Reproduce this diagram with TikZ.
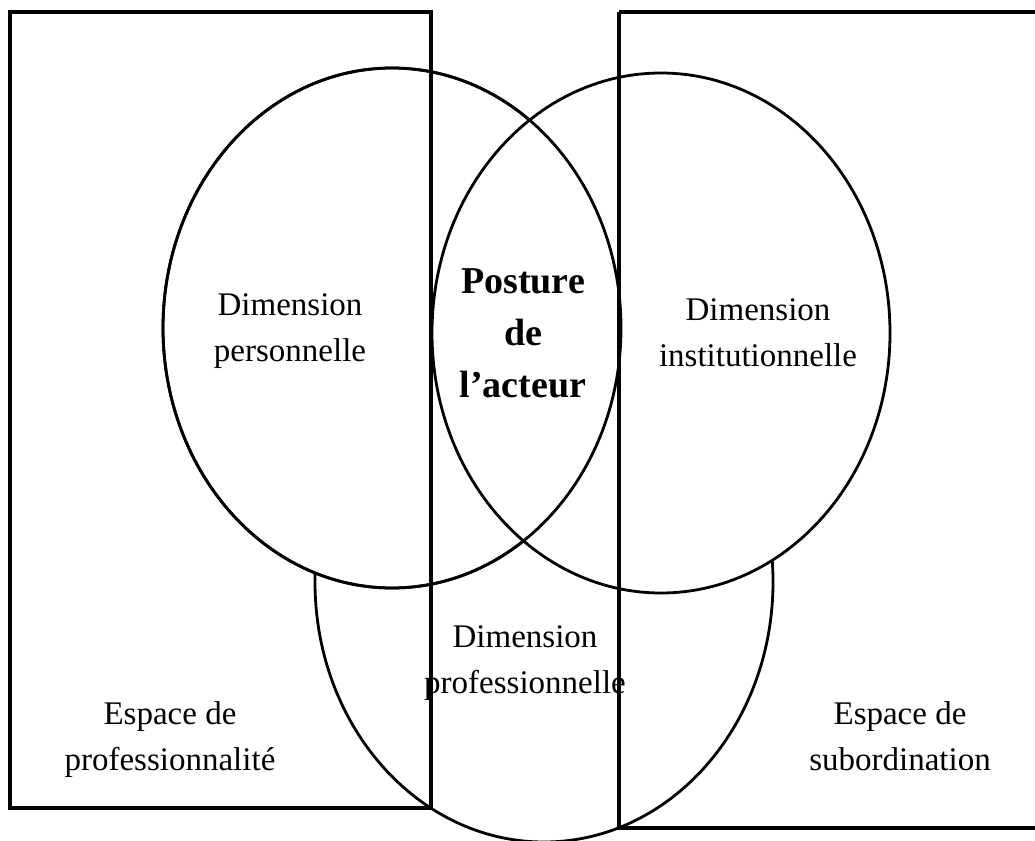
\documentclass[tikz,border=0pt]{standalone}
\usepackage{fontspec}
\setmainfont{Liberation Serif}
\usetikzlibrary{shapes.geometric}
\begin{document}
\begin{tikzpicture}[x=1pt,y=-1pt,
  zone/.style={draw=black,line width=3.4pt},
  dimring/.style={ellipse,draw=black,fill=white,line width=2.8pt,
    inner sep=0pt,minimum width=458pt,minimum height=520pt},
  label/.style={align=center,anchor=base,font=\fontsize{33}{46}\selectfont},
  core/.style={align=center,anchor=base,font=\bfseries\fontsize{38}{52}\selectfont}]
  \useasboundingbox (0,0) rectangle (1035,840);
  \clip (0,0) rectangle (1035,840);
  \fill[white] (0,0) rectangle (1035,840);
  % the professional dimension lies beneath the two upper dimensions
  \node[dimring] (pro) at (544,582) {};
  \node[dimring] (perso) at (392,328) {};
  \node[dimring] (inst) at (661,333) {};
  % personal ring redrawn so its arc shows across the institutional one
  \draw[line width=2.8pt] (perso.center) ellipse [x radius=229, y radius=260];
  % the two spaces
  \draw[zone] (10,12) rectangle (431,808);
  \draw[zone] (619,12) -- (619,828) -- (1045,828);
  \draw[zone] (619,12) -- (1045,12);
  % labels (anchored on the baseline of their last line)
  \node[label] (tperso) at (290,361) {Dimension\\personnelle};
  \node[core] (tcore) at (523,397) {Posture\\de\\l’acteur};
  \node[label] (tinst) at (758,366) {Dimension\\institutionnelle};
  \node[label] (tpro) at (525,693) {Dimension\\professionnelle};
  \node[label] (tpsp) at (170,770) {Espace de\\professionnalité};
  \node[label] (tsub) at (900,770) {Espace de\\subordination};
\end{tikzpicture}
\end{document}
